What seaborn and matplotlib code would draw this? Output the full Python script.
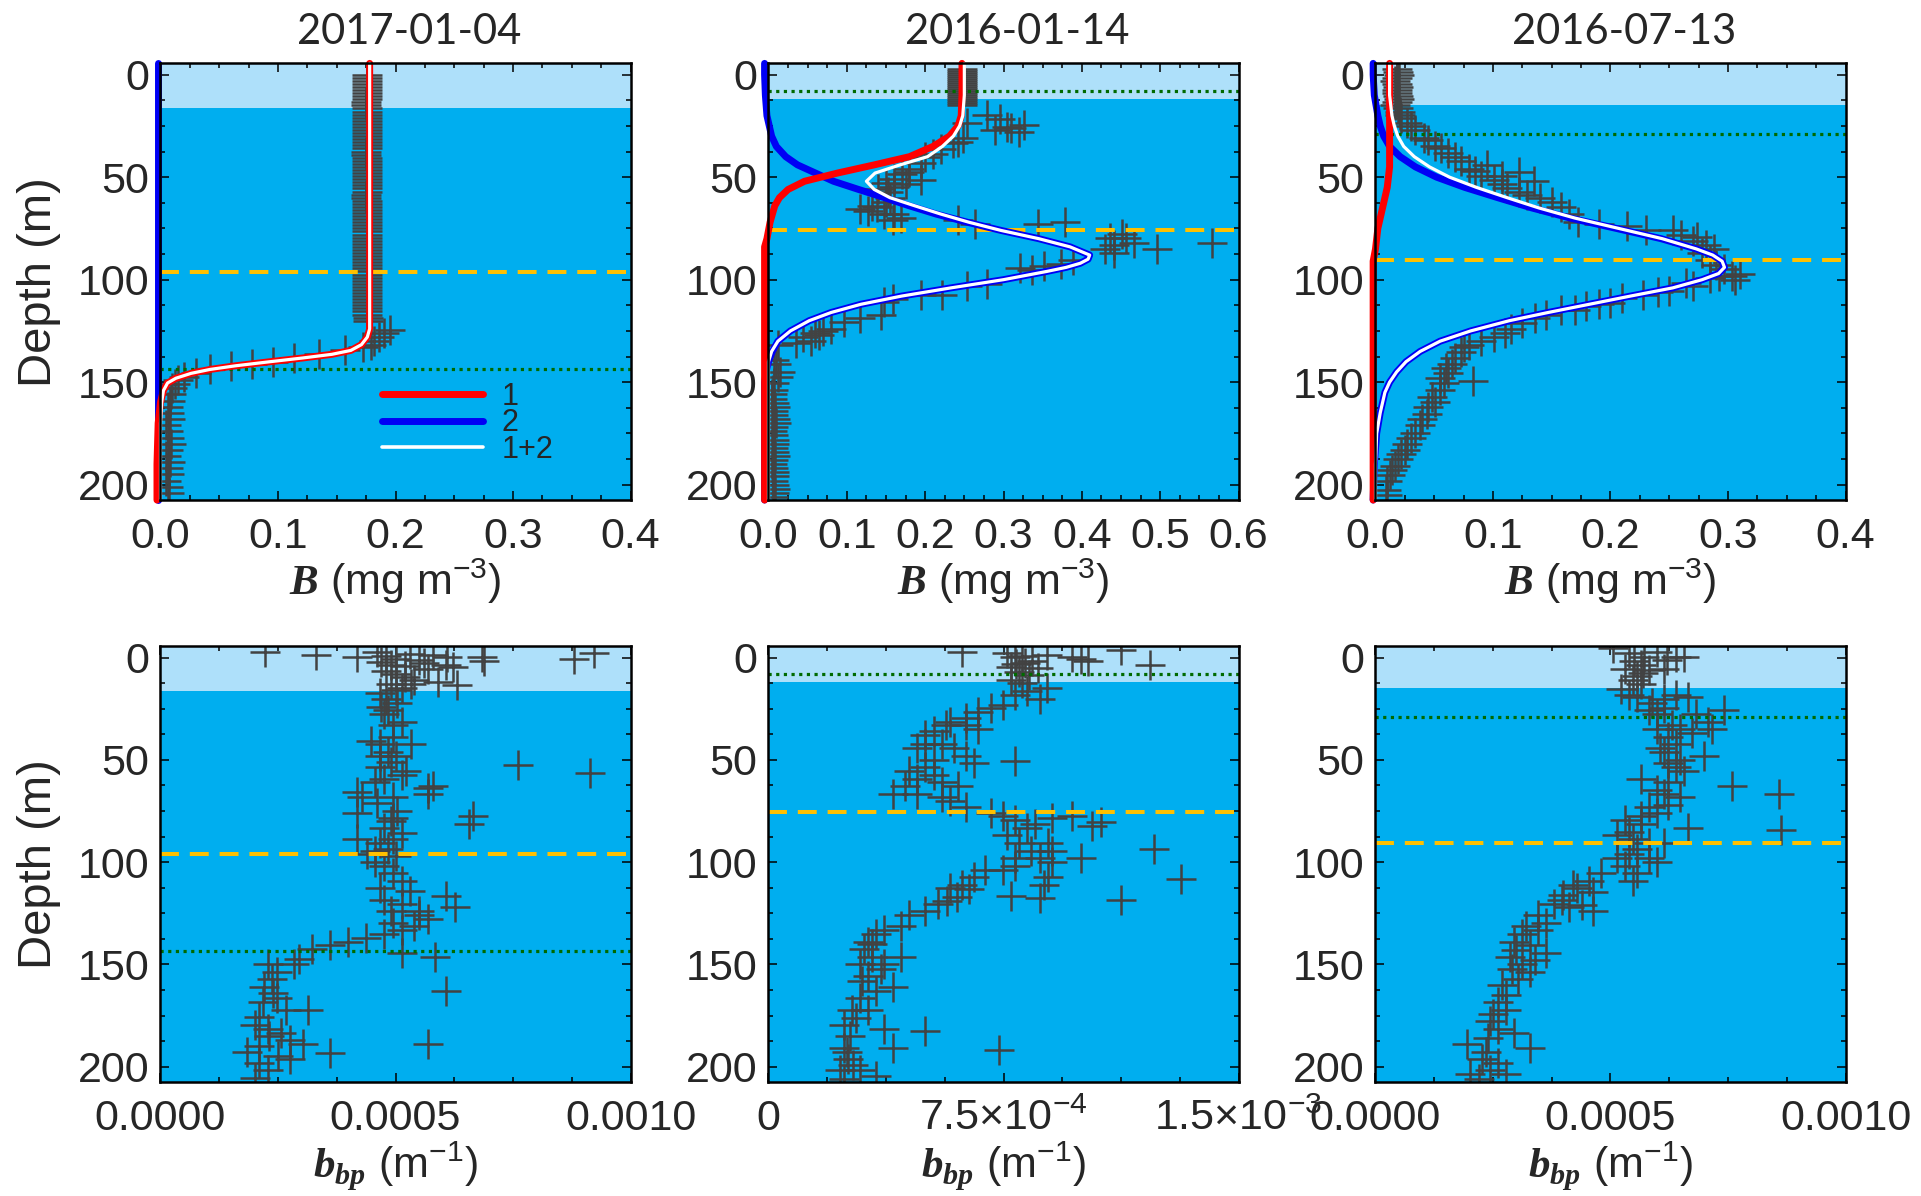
import matplotlib
matplotlib.use("Agg")
import matplotlib.pyplot as plt
import seaborn as sns
from matplotlib.ticker import FixedLocator, FixedFormatter, MultipleLocator
from matplotlib.lines import Line2D

# ------------------------------------------------------------------ data
dates = ["2017-01-04", "2016-01-14", "2016-07-13"]
band_depth = [16.2, 11.8, 15.0]      # light surface layer (m)
dcm_depth = [96.2, 75.7, 90.6]       # yellow dashed line (m)
mld_depth = [143.5, 8.1, 29.1]       # green dotted line (m)

# --- top row: B (mg m-3) measured points (B, depth)
p1_points = [
    (0.176, 0), (0.176, 1.5), (0.176, 3), (0.176, 4.5), (0.176, 6), (0.176, 7.5), (0.176, 9), (0.176, 10.5),
    (0.176, 12), (0.175, 13.5), (0.175, 15), (0.176, 16.5), (0.176, 18), (0.176, 19.5), (0.176, 21),
    (0.176, 22.5), (0.176, 24), (0.176, 25.5), (0.176, 27), (0.176, 28.5), (0.176, 30), (0.176, 31.5),
    (0.176, 33), (0.176, 34.5), (0.176, 36), (0.175, 37.5), (0.175, 39), (0.176, 40.5), (0.176, 42),
    (0.176, 43.5), (0.176, 45), (0.176, 46.5), (0.176, 48), (0.176, 49.5), (0.176, 51), (0.176, 52.5),
    (0.176, 54), (0.176, 55.5), (0.176, 57), (0.175, 58.5), (0.175, 60), (0.176, 61.5), (0.176, 63),
    (0.176, 64.5), (0.176, 66), (0.176, 67.5), (0.176, 69), (0.176, 70.5), (0.176, 72), (0.176, 73.5),
    (0.176, 75), (0.176, 76.5), (0.176, 78), (0.176, 79.5), (0.176, 81), (0.176, 82.5), (0.176, 84),
    (0.176, 85.5), (0.176, 87), (0.176, 88.5), (0.176, 90), (0.176, 91.5), (0.176, 93), (0.176, 94.5),
    (0.176, 96), (0.176, 97.5), (0.176, 99), (0.176, 100.5), (0.176, 102), (0.176, 103.5), (0.176, 105),
    (0.176, 106.5), (0.176, 108), (0.176, 109.5), (0.176, 111), (0.176, 112.5), (0.176, 114), (0.176, 115.5),
    (0.176, 117), (0.177, 118.5), (0.177, 120), (0.195, 124.5), (0.190, 126), (0.186, 128), (0.182, 130),
    (0.179, 132), (0.172, 133), (0.157, 134.5), (0.135, 136.4), (0.114, 138.2), (0.096, 140.1), (0.078, 141),
    (0.060, 142), (0.042, 143.8), (0.030, 145.7), (0.020, 147.5), (0.015, 149), (0.012, 151), (0.010, 153),
    (0.009, 156), (0.008, 159), (0.006, 162), (0.007, 165), (0.008, 168), (0.005, 171), (0.006, 174),
    (0.007, 177), (0.009, 180), (0.006, 183), (0.005, 186), (0.008, 189), (0.006, 192), (0.007, 195),
    (0.005, 198), (0.006, 201), (0.007, 204)]
p2_points = [
    (0.247, -3), (0.247, -2), (0.247, -1), (0.247, 0), (0.247, 1), (0.247, 2), (0.247, 3), (0.247, 4),
    (0.247, 5), (0.247, 6), (0.247, 7), (0.247, 8), (0.247, 9), (0.247, 10), (0.247, 11), (0.247, 12),
    (0.247, 13), (0.247, 14), (0.247, 15),
    (0.279, 19.7), (0.295, 21.6), (0.305, 25.3), (0.326, 24.4), (0.289, 27.2), (0.253, 23.4), (0.31, 26), (0.32, 28),
    (0.248, 30.9), (0.242, 32.8), (0.235, 33.5), (0.22, 36.5), (0.21, 38.5), (0.2, 40), (0.195, 43), (0.18, 46),
    (0.17, 48.5), (0.18, 47.5), (0.16, 51), (0.195, 51.5), (0.15, 53), (0.175, 53.5), (0.16, 55), (0.14, 56),
    (0.153, 57), (0.155, 60), (0.15, 62), (0.132, 64), (0.138, 64.5), (0.117, 65.5), (0.127, 66.5), (0.148, 68.2),
    (0.16, 68), (0.169, 70), (0.159, 71), (0.242, 71), (0.263, 72.9), (0.344, 73), (0.378, 72),
    (0.451, 77.5), (0.436, 79.5), (0.456, 79.5), (0.467, 82), (0.566, 82), (0.441, 83), (0.43, 85), (0.496, 85),
    (0.441, 87), (0.389, 90.5), (0.373, 92.5), (0.352, 93.5), (0.321, 94.5), (0.336, 95.5), (0.279, 102),
    (0.253, 103), (0.221, 107.5), (0.195, 107.5), (0.159, 109.5), (0.148, 111), (0.143, 117), (0.117, 118.5),
    (0.096, 120.5), (0.08, 124), (0.07, 125), (0.06, 126), (0.065, 127), (0.044, 128), (0.054, 130), (0.035, 131),
    (0.0125, 132), (0.0073, 139), (0.01, 141), (0.015, 145), (0.0125, 147.5), (0.0073, 150.5),
    (0.006, 154), (0.005, 156), (0.005, 158), (0.007, 160), (0.008, 162), (0.006, 164), (0.006, 166),
    (0.008, 168), (0.009, 170), (0.006, 172), (0.005, 174), (0.006, 176), (0.007, 178), (0.007, 180),
    (0.006, 182), (0.007, 184), (0.008, 186), (0.006, 188), (0.005, 190), (0.006, 192), (0.007, 194),
    (0.007, 196), (0.006, 198), (0.007, 200), (0.008, 202), (0.007, 204), (0.006, 206)]
p3_points = [
    (0.018, -3), (0.019, -1.5), (0.020, 0), (0.018, 1.5), (0.017, 3), (0.018, 4.5), (0.019, 6), (0.018, 7.5),
    (0.018, 9), (0.019, 10.5), (0.020, 12), (0.018, 13.5), (0.017, 15), (0.019, 16.5), (0.021, 18),
    (0.021, 19.5), (0.022, 21),
    (0.027, 23.4), (0.030, 25), (0.034, 27.2), (0.041, 30.9), (0.045, 32), (0.051, 34.6), (0.056, 36), (0.062, 38.4),
    (0.068, 40), (0.073, 42.1), (0.095, 44), (0.080, 45.8), (0.085, 47), (0.122, 47.7), (0.090, 49.6), (0.108, 49.6),
    (0.101, 51.4), (0.135, 52), (0.108, 53.3), (0.112, 55.2), (0.122, 57), (0.129, 58.9), (0.140, 60), (0.150, 62),
    (0.158, 64.5), (0.165, 68.2), (0.172, 72), (0.190, 73), (0.214, 73.8), (0.253, 75.7), (0.230, 76), (0.260, 78),
    (0.274, 79.4), (0.270, 81), (0.281, 83.2), (0.288, 85), (0.278, 86.9), (0.285, 90.6), (0.290, 93), (0.297, 95),
    (0.310, 97), (0.303, 98.1), (0.292, 98.1), (0.285, 99), (0.306, 100), (0.264, 101.8), (0.270, 103),
    (0.250, 105.6), (0.240, 106), (0.228, 107.4), (0.210, 109), (0.200, 111.2), (0.190, 112), (0.179, 113),
    (0.158, 114.9), (0.170, 115), (0.145, 117), (0.136, 118.6), (0.125, 121), (0.115, 124.2), (0.110, 126),
    (0.101, 128), (0.090, 130), (0.080, 131.7), (0.075, 133), (0.073, 135.4), (0.068, 138), (0.065, 141),
    (0.060, 143), (0.062, 145.7), (0.055, 148), (0.083, 149.4), (0.058, 150.4), (0.055, 154), (0.048, 157),
    (0.051, 159.7), (0.045, 162), (0.044, 165.3), (0.040, 168), (0.038, 171), (0.034, 174.6), (0.030, 177),
    (0.027, 180.2), (0.025, 183), (0.022, 185), (0.019, 187.7), (0.017, 191), (0.014, 193), (0.012, 195.2),
    (0.010, 198), (0.009, 202.6), (0.010, 205)]

# --- top row: model curves (depth grid, component 1, component 2, sum 1+2)
c1_depth = [-5.5, 0, 20, 40, 60, 80, 100, 120, 124, 128, 131.7, 134.5, 136.4, 138.2, 140.1, 142, 143.8,
            145.7, 148.1, 150.4, 154.1, 159.7, 170, 190, 207.5]
c1_comp1 = [0.178, 0.178, 0.178, 0.178, 0.178, 0.178, 0.178, 0.178, 0.178, 0.176, 0.171, 0.162, 0.146,
            0.121, 0.092, 0.064, 0.042, 0.026, 0.013, 0.006, 0.0025, 0.0, -0.002, -0.003, -0.003]
c1_comp2 = [-0.002, -0.002, -0.002, -0.002, -0.002, -0.002, -0.002, -0.002, -0.002, -0.002, -0.002, -0.002,
            -0.002, -0.002, -0.002, -0.002, -0.002, -0.002, -0.002, -0.002, -0.002, -0.002, -0.002, -0.002, -0.002]
c1_sum = [0.178, 0.178, 0.178, 0.178, 0.178, 0.178, 0.178, 0.178, 0.178, 0.176, 0.171, 0.162, 0.146,
          0.121, 0.092, 0.064, 0.042, 0.026, 0.013, 0.006, 0.0025, 0.001, 0.0, 0.0, 0.0]

c2_depth = [-5.5, 0, 10, 20, 25, 30, 35, 40, 44, 48, 52, 56, 60, 64, 68, 72, 76, 80, 84, 88, 90, 92, 94,
            96, 100, 104, 108, 112, 116, 120, 125, 130, 135, 140, 145, 150, 170, 207.5]
c2_comp1 = [0.247, 0.247, 0.247, 0.246, 0.242, 0.231, 0.210, 0.180, 0.135, 0.088, 0.046, 0.025, 0.014,
            0.008, 0.005, 0.002, 0.0, -0.002, -0.005, -0.005, -0.005, -0.005, -0.005, -0.005, -0.005,
            -0.005, -0.005, -0.005, -0.005, -0.005, -0.005, -0.005, -0.005, -0.005, -0.005, -0.005, -0.005, -0.005]
c2_comp2 = [-0.005, -0.005, -0.004, -0.002, 0.001, 0.004, 0.010, 0.022, 0.037, 0.060, 0.083, 0.115, 0.148,
            0.180, 0.214, 0.254, 0.297, 0.345, 0.385, 0.410, 0.408, 0.398, 0.380, 0.355, 0.300, 0.233,
            0.170, 0.118, 0.080, 0.052, 0.028, 0.012, 0.005, 0.0, -0.003, -0.005, -0.005, -0.005]
c2_sum = [0.250, 0.250, 0.250, 0.248, 0.244, 0.236, 0.222, 0.203, 0.168, 0.136, 0.125, 0.135, 0.155,
          0.187, 0.220, 0.256, 0.297, 0.345, 0.385, 0.410, 0.408, 0.398, 0.380, 0.355, 0.300, 0.233,
          0.170, 0.118, 0.080, 0.052, 0.028, 0.012, 0.004, 0.0, 0.0, 0.0, 0.0, 0.0]

c3_depth = [-5.5, 0, 10, 20, 25, 30, 35, 40, 45, 50, 55, 60, 65, 70, 75, 80, 85, 88, 91, 94, 97, 100,
            104, 108, 112, 116, 120, 125, 130, 135, 140, 145, 150, 155, 160, 165, 175, 190, 207.5]
c3_comp1 = [0.012, 0.012, 0.012, 0.012, 0.012, 0.012, 0.012, 0.012, 0.012, 0.011, 0.010, 0.008, 0.006,
            0.004, 0.002, 0.001, 0.0, -0.001, -0.002, -0.002, -0.002, -0.002, -0.002, -0.002, -0.002,
            -0.002, -0.002, -0.002, -0.002, -0.002, -0.002, -0.002, -0.002, -0.002, -0.002, -0.002,
            -0.002, -0.002, -0.002]
c3_comp2 = [-0.002, -0.002, -0.001, 0.002, 0.004, 0.007, 0.012, 0.021, 0.034, 0.052, 0.076, 0.104, 0.133,
            0.166, 0.205, 0.243, 0.273, 0.287, 0.295, 0.297, 0.292, 0.278, 0.253, 0.217, 0.182, 0.147,
            0.114, 0.081, 0.055, 0.038, 0.026, 0.018, 0.012, 0.008, 0.006, 0.004, 0.001, -0.001, -0.002]
c3_sum = [0.012, 0.012, 0.012, 0.014, 0.016, 0.019, 0.024, 0.033, 0.046, 0.063, 0.086, 0.112, 0.139,
          0.170, 0.207, 0.244, 0.273, 0.287, 0.295, 0.297, 0.292, 0.278, 0.253, 0.217, 0.182, 0.147,
          0.114, 0.081, 0.055, 0.038, 0.026, 0.018, 0.012, 0.008, 0.006, 0.004, 0.001, 0.0, 0.0]

# --- bottom row: b_bp (m-1) measured points (bbp, depth)
b1_points = [
    (2.23e-4, -3), (3.31e-4, -1.2), (4.18e-4, -0.3), (4.6e-4, -3), (4.8e-4, -1), (5.0e-4, 0.5), (5.3e-4, -2),
    (5.5e-4, 1), (4.7e-4, 2), (4.9e-4, 3.5), (5.2e-4, 4), (5.6e-4, 2.5), (5.8e-4, -1.5), (6.1e-4, -0.5),
    (6.84e-4, -0.2), (6.89e-4, 1.6), (6.08e-4, 3.5), (5.7e-4, 5.3), (6.23e-4, 4.4), (8.79e-4, 0.7), (9.22e-4, -2.1),
    (4.8e-4, 6.5), (5.0e-4, 8), (5.2e-4, 9.5), (5.4e-4, 11), (5.9e-4, 11.8), (5.32e-4, 12.7), (5.13e-4, 14.6),
    (4.9e-4, 13), (6.3e-4, 13.5), (5.0e-4, 16),
    (4.66e-4, 17.4), (4.8e-4, 20), (5.04e-4, 22), (4.7e-4, 24), (4.85e-4, 25.7), (4.75e-4, 27.6), (5.13e-4, 31.3),
    (4.94e-4, 33.1), (4.94e-4, 38.7), (4.47e-4, 40.5), (4.66e-4, 42.4), (5.32e-4, 42.4), (4.85e-4, 46.1),
    (4.66e-4, 47.9), (5.0e-4, 48), (4.9e-4, 51), (7.6e-4, 52.6), (4.66e-4, 53.5), (5.23e-4, 55.4), (9.13e-4, 56.3),
    (5.13e-4, 57.2), (4.75e-4, 59.1), (4.56e-4, 60.9), (5.8e-4, 62.8), (5.7e-4, 63.7), (4.18e-4, 65.6),
    (5.7e-4, 66.5), (4.28e-4, 68.3), (4.94e-4, 68.3), (4.6e-4, 71), (5.04e-4, 74.9), (4.18e-4, 75.8),
    (6.65e-4, 77.6), (4.94e-4, 78.5), (4.9e-4, 80), (6.56e-4, 81.3), (4.75e-4, 83.2), (5.13e-4, 85.9),
    (4.18e-4, 88.7), (4.94e-4, 88.7), (4.66e-4, 90.6), (4.85e-4, 93.4), (4.56e-4, 94.3), (4.4e-4, 96),
    (5.0e-4, 97), (4.56e-4, 99.9), (4.75e-4, 101.7), (4.94e-4, 105.4), (5.13e-4, 109.1), (4.66e-4, 112.8),
    (5.3e-4, 114), (6.08e-4, 116.6), (4.75e-4, 118.4), (5.13e-4, 120.3), (6.27e-4, 122.1), (5.51e-4, 124),
    (4.9e-4, 124), (5.5e-4, 126), (5.7e-4, 127.7), (4.94e-4, 129.5), (5.4e-4, 131), (5.13e-4, 133.2),
    (4.75e-4, 135.1), (4.37e-4, 136.9), (3.99e-4, 138.8), (3.61e-4, 140.7), (3.23e-4, 142.5), (5.13e-4, 144.4),
    (5.85e-4, 146.2), (2.95e-4, 147.1), (2.85e-4, 149.9),
    (2.28e-4, 149.9), (2.47e-4, 153.6), (2.38e-4, 157.3), (2.2e-4, 161), (6.08e-4, 162.9), (2.4e-4, 164),
    (2.47e-4, 166.6), (2.19e-4, 168.5), (2.66e-4, 172.2), (3.14e-4, 172.2), (2.09e-4, 175.9), (2.0e-4, 179.6),
    (2.28e-4, 181.4), (2.57e-4, 183.3), (2.3e-4, 185), (2.76e-4, 187), (3.04e-4, 188.9), (5.7e-4, 188.9),
    (2.1e-4, 190), (1.85e-4, 192.6), (3.61e-4, 193.5), (2.5e-4, 195), (2.76e-4, 196.3), (2.09e-4, 198.1),
    (2.28e-4, 201.8), (2.0e-4, 205.5)]
b2_points = [
    (6.18e-4, -3), (11.26e-4, -3.9), (7.61e-4, -2.1), (8.9e-4, -1.2), (7.87e-4, -0.2), (9.7e-4, -0.2),
    (9.96e-4, 0.7), (8.4e-4, 1.6), (10.2e-4, 1.6), (12.18e-4, 3.5), (7.74e-4, 4.4), (8.1e-4, -1), (8.2e-4, 2.5),
    (7.9e-4, 3), (8.6e-4, 5), (8.0e-4, 7.2), (8.3e-4, 8.5), (7.74e-4, 10.9), (8.1e-4, 12.5), (8.9e-4, 14.6),
    (8.26e-4, 16.4), (7.87e-4, 18.3), (8.65e-4, 20.2),
    (7.48e-4, 22.9), (7.09e-4, 24.8), (6.7e-4, 26.6), (6.31e-4, 29.4), (5.79e-4, 31.3), (5.66e-4, 33.1),
    (6.31e-4, 33.1), (6.7e-4, 35), (5.27e-4, 35.9), (5.01e-4, 37.8), (5.01e-4, 42.4), (5.53e-4, 42.4),
    (4.75e-4, 44.3), (5.92e-4, 44.3), (6.31e-4, 47.9), (5.27e-4, 49.8), (7.87e-4, 50.7), (6.57e-4, 51.7),
    (5.01e-4, 53.5), (4.48e-4, 55.4), (5.27e-4, 57.2), (4.75e-4, 59.1), (5.53e-4, 60.9), (4.35e-4, 62.8),
    (6.05e-4, 62.8), (3.96e-4, 66.5), (4.75e-4, 66.5), (5.53e-4, 68.3), (5.79e-4, 70.2), (6.31e-4, 73),
    (7.09e-4, 75.8), (7.48e-4, 77.6), (9.7e-4, 77.6), (9.04e-4, 78.5), (7.87e-4, 79.5), (10.6e-4, 80.4),
    (8.52e-4, 81.3), (10.34e-4, 82.3), (8.26e-4, 83.2), (7.61e-4, 86.9), (8.0e-4, 90.6), (8.91e-4, 90.6),
    (12.3e-4, 93.4), (8.39e-4, 94.3), (9.04e-4, 94.3), (7.87e-4, 98), (8.65e-4, 98), (9.96e-4, 98),
    (9.04e-4, 99.9), (7.87e-4, 101.7), (7.48e-4, 103.6), (6.9e-4, 104), (6.57e-4, 107.3), (8.91e-4, 107.3),
    (13.15e-4, 108.2), (6.18e-4, 111), (8.78e-4, 111), (5.79e-4, 112.8), (6.4e-4, 113), (7.74e-4, 116.6),
    (6.0e-4, 117), (8.65e-4, 117.5), (11.26e-4, 118.4), (5.7e-4, 119), (5.4e-4, 120.3), (5.01e-4, 124),
    (4.48e-4, 125.8), (4.22e-4, 131.4), (3.7e-4, 133.2), (3.44e-4, 135.1), (3.18e-4, 138.8), (3.3e-4, 140),
    (3.05e-4, 142.5), (3.31e-4, 146.2), (4.22e-4, 146.2), (2.92e-4, 149.9), (3.7e-4, 149.9), (3.6e-4, 152),
    (3.18e-4, 155.5), (3.0e-4, 158), (3.96e-4, 161.1), (3.44e-4, 163), (2.92e-4, 166.6), (2.66e-4, 172.2),
    (3.18e-4, 172.2), (2.8e-4, 176), (2.4e-4, 179.6), (3.7e-4, 181.4), (5.01e-4, 182.4), (2.6e-4, 185),
    (2.4e-4, 190.7), (3.96e-4, 190.7), (7.35e-4, 191.6), (2.5e-4, 193), (2.53e-4, 196.3), (2.7e-4, 199),
    (2.27e-4, 201.8), (2.92e-4, 201.8), (3.44e-4, 204.6), (2.4e-4, 206)]
b3_points = [
    (5.05e-4, -4.9), (5.39e-4, -2.1), (5.98e-4, -3), (5.72e-4, -0.2), (6.4e-4, -0.2), (6.57e-4, -0.2),
    (5.5e-4, 1.5), (6.2e-4, 1), (5.64e-4, 3.5), (5.3e-4, 5.3), (5.81e-4, 6.2), (6.14e-4, 5.3), (5.56e-4, 9),
    (5.47e-4, 10.9), (5.64e-4, 12.7), (5.7e-4, 7.5),
    (5.22e-4, 15.5), (5.39e-4, 18.3), (6.4e-4, 18.3), (5.56e-4, 19.2), (6.65e-4, 19.2), (6.14e-4, 20.2),
    (5.89e-4, 22), (6.14e-4, 24.8), (5.81e-4, 25.7), (7.41e-4, 25.7), (5.98e-4, 27.6), (6.82e-4, 27.6),
    (7.07e-4, 31.3), (6.31e-4, 33.1), (5.98e-4, 35), (6.48e-4, 35), (7.15e-4, 35), (6.73e-4, 36.8),
    (6.23e-4, 38.7), (6.4e-4, 42.4), (6.06e-4, 44.3), (6.14e-4, 46.1), (6.99e-4, 47.9), (6.48e-4, 49.8),
    (6.23e-4, 51.7), (6.4e-4, 53.5), (6.57e-4, 55.4), (5.64e-4, 59.1), (6.23e-4, 60.9), (7.58e-4, 62.8),
    (5.98e-4, 64.6), (6.14e-4, 66.5), (8.59e-4, 66.5), (6.48e-4, 68.3), (6.23e-4, 72.1), (5.81e-4, 73),
    (5.98e-4, 75.8), (5.64e-4, 77.6), (5.3e-4, 79.5), (5.64e-4, 81.3), (6.65e-4, 83.2), (8.63e-4, 84.1),
    (5.39e-4, 85), (5.13e-4, 86.9), (5.47e-4, 88.7), (5.81e-4, 90.6), (6.14e-4, 90.6), (5.56e-4, 93.4),
    (5.39e-4, 96.2), (5.13e-4, 98), (5.81e-4, 98), (5.98e-4, 99.9), (5.3e-4, 101.7), (4.8e-4, 105.4),
    (5.56e-4, 105.4), (4.55e-4, 109.1), (5.47e-4, 109.1), (4.21e-4, 111), (4.29e-4, 112.8), (4.63e-4, 114.7),
    (4.0e-4, 116), (3.96e-4, 118.4), (3.79e-4, 120.3), (4.4e-4, 121), (4.12e-4, 122.1), (4.63e-4, 124),
    (3.45e-4, 125.8), (3.62e-4, 129.5), (3.2e-4, 131), (3.45e-4, 133.2), (3.11e-4, 135.1), (2.95e-4, 138.8),
    (3.28e-4, 140.7), (3.0e-4, 143), (3.62e-4, 144.4), (2.86e-4, 146.2), (3.4e-4, 148), (3.11e-4, 149.9),
    (2.9e-4, 152), (3.28e-4, 153.6), (3.03e-4, 157.3), (2.7e-4, 160), (2.78e-4, 164.8), (2.61e-4, 168.5),
    (2.78e-4, 172.2), (2.5e-4, 174), (2.44e-4, 177.7), (2.61e-4, 181.4), (2.95e-4, 183.3), (2.4e-4, 186),
    (1.94e-4, 188.9), (3.28e-4, 190.7), (2.36e-4, 192.6), (2.27e-4, 196.3), (2.61e-4, 198.1), (2.44e-4, 201.8),
    (2.02e-4, 203.7), (2.78e-4, 203.7), (2.2e-4, 206)]

# axis ticks / labels
top_xmax = [0.4, 0.6, 0.4]
top_xticks = [[0.0, 0.1, 0.2, 0.3, 0.4], [0.0, 0.1, 0.2, 0.3, 0.4, 0.5, 0.6], [0.0, 0.1, 0.2, 0.3, 0.4]]
top_xticklabels = [["0.0", "0.1", "0.2", "0.3", "0.4"],
                   ["0.0", "0.1", "0.2", "0.3", "0.4", "0.5", "0.6"],
                   ["0.0", "0.1", "0.2", "0.3", "0.4"]]
bot_xmax = [0.001, 0.0015, 0.001]
bot_xticks = [[0.0, 0.0005, 0.001], [0.0, 0.00075, 0.0015], [0.0, 0.0005, 0.001]]
bot_xticklabels = [["0.0000", "0.0005", "0.0010"],
                   ["0", r"7.5$\times$10$^{-4}$", r"1.5$\times$10$^{-3}$"],
                   ["0.0000", "0.0005", "0.0010"]]
bot_xminor = [0.000125, 0.0001875, 0.000125]
depth_ticks = [0, 50, 100, 150, 200]
legend_labels = ["1", "2", "1+2"]

# ------------------------------------------------------------------ style
sns.set_style("ticks")
plt.rcParams["font.family"] = ["Liberation Sans", "DejaVu Sans"]
plt.rcParams["mathtext.fontset"] = "custom"
plt.rcParams["mathtext.rm"] = "Liberation Sans"
plt.rcParams["mathtext.it"] = "Liberation Sans:italic"
plt.rcParams["mathtext.bf"] = "Liberation Sans:bold"
try:
    plt.rcParams["mathtext.bfit"] = "Liberation Serif:italic:bold"
    BFIT = True
except KeyError:
    BFIT = False

DEEP = "#00AEEF"
LIGHT = "#AEE0FA"
GRAY = "#424242"
RED = "#FF0000"
BLUE = "#0000F5"
YELLOW = "#FFC000"
GREEN = "#006A00"
TICK_FS = 31

fig = plt.figure(figsize=(19.21, 11.96), dpi=100)
lefts = [0.08355, 0.40005, 0.71603]
width = 0.24467


def decorate(ax, i, xmax, xticks, xticklabels, xminor, xlabel):
    ax.set_facecolor(DEEP)
    ax.axhspan(-20, band_depth[i], color=LIGHT, lw=0, zorder=0.5)
    ax.axhline(dcm_depth[i], color=YELLOW, lw=2.9, dashes=(4.7, 2.7), zorder=2.6)
    ax.axhline(mld_depth[i], color=GREEN, lw=2.3, dashes=(1.0, 1.4), zorder=2.6)
    ax.set_xlim(0, xmax)
    ax.set_ylim(207.5, -5.5)
    ax.xaxis.set_major_locator(FixedLocator(xticks))
    ax.xaxis.set_major_formatter(FixedFormatter(xticklabels))
    ax.xaxis.set_minor_locator(MultipleLocator(xminor))
    ax.yaxis.set_major_locator(FixedLocator(depth_ticks))
    ax.yaxis.set_major_formatter(FixedFormatter([str(t) for t in depth_ticks]))
    ax.yaxis.set_minor_locator(MultipleLocator(12.5))
    ax.tick_params(axis="both", which="both", direction="in", top=True, right=True,
                   labelsize=TICK_FS, color="black", width=1.1)
    ax.tick_params(which="major", length=6.5)
    ax.tick_params(which="minor", length=3.6)
    ax.tick_params(axis="x", pad=12)
    ax.tick_params(axis="y", pad=8)
    for sp in ax.spines.values():
        sp.set_linewidth(1.8)
        sp.set_color("black")
        sp.set_zorder(5)
    ax.set_xlabel(xlabel, fontsize=TICK_FS, labelpad=0)
    if i == 0:
        ax.set_ylabel("Depth (m)", fontsize=34, labelpad=12)
    else:
        ax.set_ylabel("")


def scatter(ax, pts):
    xs = [p[0] for p in pts]
    ys = [p[1] for p in pts]
    sns.scatterplot(x=xs, y=ys, marker="+", s=460, color=GRAY, linewidth=1.8,
                    ax=ax, zorder=2, legend=False)


def curve(ax, vals, depths, color, lw, z):
    sns.lineplot(x=vals, y=depths, sort=False, estimator=None, orient="y", color=color,
                 lw=lw, ax=ax, zorder=z, clip_on=False, legend=False)


if BFIT:
    lab_top = r"$\mathbfit{B}$ (mg m$^{-3}$)"
    lab_bot = r"$\mathbfit{b}_{\mathbfit{bp}}$ (m$^{-1}$)"
else:
    lab_top = r"$\mathbf{B}$ (mg m$^{-3}$)"
    lab_bot = r"$\mathbf{b}_{\mathbf{bp}}$ (m$^{-1}$)"

top_points = [p1_points, p2_points, p3_points]
top_curves = [(c1_depth, c1_comp1, c1_comp2, c1_sum),
              (c2_depth, c2_comp1, c2_comp2, c2_sum),
              (c3_depth, c3_comp1, c3_comp2, c3_sum)]
bot_points = [b1_points, b2_points, b3_points]

for i in range(3):
    # top row
    ax = fig.add_axes([lefts[i], 0.5819, width, 0.3651])
    scatter(ax, top_points[i])
    d, c1, c2, cs = top_curves[i]
    curve(ax, c2, d, BLUE, 5.0, 3.0)
    curve(ax, c1, d, RED, 5.0, 3.1)
    curve(ax, cs, d, "white", 2.3, 3.2)
    decorate(ax, i, top_xmax[i], top_xticks[i], top_xticklabels[i], 0.025, lab_top)
    ax.set_title(dates[i], fontsize=30, family=["Lato", "DejaVu Sans"], pad=14, x=0.529)
    if i == 0:
        handles = [Line2D([], [], color=RED, lw=5.0), Line2D([], [], color=BLUE, lw=5.0),
                   Line2D([], [], color="white", lw=2.6)]
        ax.legend(handles, legend_labels, loc="upper left", bbox_to_anchor=(0.472, 0.27),
                  frameon=False, fontsize=22, handlelength=3.3, handletextpad=0.6,
                  labelspacing=-0.12, borderpad=0, borderaxespad=0)

    # bottom row
    bx = fig.add_axes([lefts[i], 0.0953, width, 0.3642])
    scatter(bx, bot_points[i])
    decorate(bx, i, bot_xmax[i], bot_xticks[i], bot_xticklabels[i], bot_xminor[i], lab_bot)

fig.savefig("out.png", dpi=100)
